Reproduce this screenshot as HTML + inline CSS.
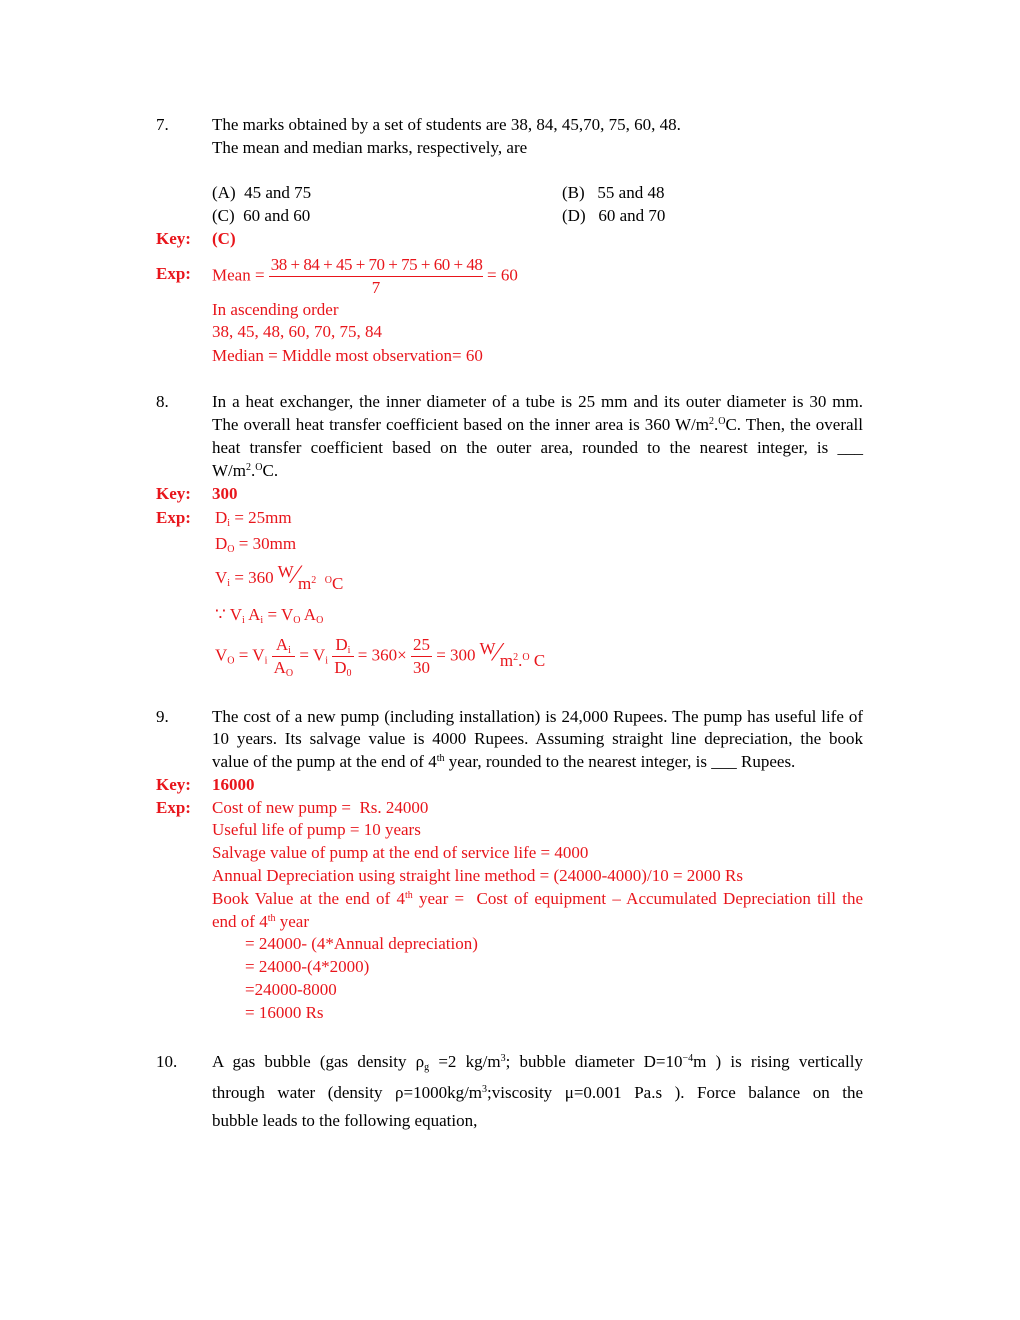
<!DOCTYPE html>
<html><head><meta charset="utf-8"><style>
body{margin:0;background:#fff;}
#p{position:relative;width:1020px;height:1320px;font-family:"Liberation Serif",serif;font-size:17px;color:#000;}
#p div{position:absolute;line-height:18px;white-space:nowrap;}
.r{color:#e8151b;}
.b{font-weight:bold;}
.j{width:651px;text-align:justify;text-align-last:justify;white-space:normal!important;}
sup{font-size:10px;vertical-align:6px;line-height:0}
sub{font-size:10px;vertical-align:-3px;line-height:0}
.fr{display:inline-block;vertical-align:middle;text-align:center;line-height:22px}
.fr span{display:block;padding:0 2px}
.fr span:first-child{border-bottom:1px solid #e8151b}
</style></head><body><div id="p">
<div style="left:156px;top:116px">7.</div>
<div style="left:212px;top:116px">The marks obtained by a set of students are 38, 84, 45,70, 75, 60, 48.</div>
<div style="left:212px;top:139px">The mean and median marks, respectively, are</div>
<div style="left:212px;top:184px">(A)&nbsp; 45 and 75</div>
<div style="left:562px;top:184px">(B)&nbsp;&nbsp; 55 and 48</div>
<div style="left:212px;top:207px">(C)&nbsp; 60 and 60</div>
<div style="left:562px;top:207px">(D)&nbsp;&nbsp; 60 and 70</div>
<div class="r b" style="left:156px;top:230px">Key:</div>
<div class="r b" style="left:212px;top:230px">(C)</div>
<div class="r b" style="left:156px;top:265px">Exp:</div>
<div class="r" style="left:212px;top:254px">Mean = <span class="fr" style="width:214px;letter-spacing:-0.5px"><span>38 + 84 + 45 + 70 + 75 + 60 + 48</span><span>7</span></span> = 60</div>
<div class="r" style="left:212px;top:301px">In ascending order</div>
<div class="r" style="left:212px;top:323px">38, 45, 48, 60, 70, 75, 84</div>
<div class="r" style="left:212px;top:347px">Median = Middle most observation= 60</div>

<div style="left:156px;top:393px">8.</div>
<div class="j" style="left:212px;top:393px">In a heat exchanger, the inner diameter of a tube is 25 mm and its outer diameter is 30 mm.</div>
<div class="j" style="left:212px;top:416px">The overall heat transfer coefficient based on the inner area is 360 W/m<sup>2</sup>.<sup>O</sup>C. Then, the overall</div>
<div class="j" style="left:212px;top:439px">heat transfer coefficient based on the outer area, rounded to the nearest integer, is ___</div>
<div style="left:212px;top:462px">W/m<sup>2</sup>.<sup>O</sup>C.</div>
<div class="r b" style="left:156px;top:485px">Key:</div>
<div class="r b" style="left:212px;top:485px">300</div>
<div class="r b" style="left:156px;top:509px">Exp:</div>
<div class="r" style="left:215px;top:509px">D<sub>i</sub> = 25mm</div>
<div class="r" style="left:215px;top:535px">D<sub>O</sub> = 30mm</div>
<div class="r" style="left:215px;top:566px">V<sub>i</sub> = 360 <span style="position:relative;top:-6px">W</span><span style="font-size:26px">⁄</span><span style="position:relative;top:6px">m<sup>2</sup> &nbsp;<sup>O</sup>C</span></div>
<div class="r" style="left:215px;top:606px">∵ V<sub>i</sub> A<sub>i</sub> = V<sub>O</sub> A<sub>O</sub></div>
<div class="r" style="left:215px;top:634px">V<sub>O</sub> = V<sub>i</sub> <span class="fr"><span>A<sub>i</sub></span><span>A<sub>O</sub></span></span> = V<sub>i</sub> <span class="fr"><span>D<sub>i</sub></span><span>D<sub>0</sub></span></span> = 360× <span class="fr"><span>25</span><span>30</span></span> = 300 <span style="position:relative;top:-6px">W</span><span style="font-size:26px">⁄</span><span style="position:relative;top:6px">m<sup>2</sup>.<sup>O</sup> C</span></div>

<div style="left:156px;top:708px">9.</div>
<div class="j" style="left:212px;top:708px">The cost of a new pump (including installation) is 24,000 Rupees. The pump has useful life of</div>
<div class="j" style="left:212px;top:730px">10 years. Its salvage value is 4000 Rupees. Assuming straight line depreciation, the book</div>
<div style="left:212px;top:753px">value of the pump at the end of 4<sup>th</sup> year, rounded to the nearest integer, is ___ Rupees.</div>
<div class="r b" style="left:156px;top:776px">Key:</div>
<div class="r b" style="left:212px;top:776px">16000</div>
<div class="r b" style="left:156px;top:799px">Exp:</div>
<div class="r" style="left:212px;top:799px">Cost of new pump = &nbsp;Rs. 24000</div>
<div class="r" style="left:212px;top:821px">Useful life of pump = 10 years</div>
<div class="r" style="left:212px;top:844px">Salvage value of pump at the end of service life = 4000</div>
<div class="r" style="left:212px;top:867px">Annual Depreciation using straight line method = (24000-4000)/10 = 2000 Rs</div>
<div class="r j" style="left:212px;top:890px">Book Value at the end of 4<sup>th</sup> year = &nbsp;Cost of equipment – Accumulated Depreciation till the</div>
<div class="r" style="left:212px;top:913px">end of 4<sup>th</sup> year</div>
<div class="r" style="left:245px;top:935px">= 24000- (4*Annual depreciation)</div>
<div class="r" style="left:245px;top:958px">= 24000-(4*2000)</div>
<div class="r" style="left:245px;top:981px">=24000-8000</div>
<div class="r" style="left:245px;top:1004px">= 16000 Rs</div>

<div style="left:156px;top:1053px">10.</div>
<div class="j" style="left:212px;top:1053px">A gas bubble (gas density ρ<sub>g</sub> =2 kg/m<sup>3</sup>; bubble diameter D=10<sup>−4</sup>m ) is rising vertically</div>
<div class="j" style="left:212px;top:1084px">through water (density ρ=1000kg/m<sup>3</sup>;viscosity μ=0.001 Pa.s ). Force balance on the</div>
<div style="left:212px;top:1112px">bubble leads to the following equation,</div>
</div></body></html>
